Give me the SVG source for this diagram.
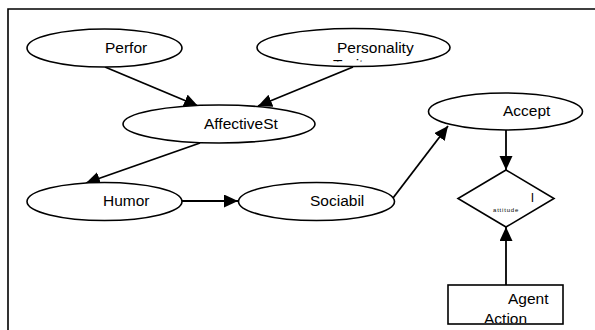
<svg xmlns="http://www.w3.org/2000/svg" width="595" height="330" viewBox="0 0 595 330">
  <style>
    .node { fill: #ffffff; stroke: #000000; stroke-width: 1.6; }
    .lbl { font-family: "Liberation Sans", Arial, sans-serif; font-size: 15.5px; fill: #000000; }
    .tiny { font-family: "Liberation Sans", Arial, sans-serif; font-size: 6px; letter-spacing: 0.8px; fill: #000000; }
    .edge { stroke: #000000; stroke-width: 1.8; fill: none; marker-end: url(#arrow); }
    .frame { stroke: #000000; stroke-width: 1.6; fill: none; }
  </style>
  <defs>
    <marker id="arrow" markerUnits="userSpaceOnUse" markerWidth="15" markerHeight="14" refX="14" refY="6.5" orient="auto">
      <path d="M0,0 L14,6.5 L0,13 Z" fill="#000000"/>
    </marker>
    <clipPath id="clipTrait"><rect x="300" y="50" width="140" height="11.5"/></clipPath>
    <clipPath id="clipAgent"><rect x="449" y="286" width="113" height="37"/></clipPath>
  </defs>

  <rect width="595" height="330" fill="#ffffff"/>
  <!-- page frame: top and left rules -->
  <path class="frame" d="M8,330 L8,9 L595,9"/>

  <g id="connectors">
    <line class="edge" x1="105" y1="67" x2="198" y2="106"/>
    <line class="edge" x1="353" y1="67" x2="258" y2="106"/>
    <line class="edge" x1="200" y1="143" x2="86" y2="183"/>
    <line class="edge" x1="182" y1="201" x2="238" y2="201"/>
    <path class="edge" d="M393,198 L448,126"/>
    <line class="edge" x1="506" y1="130" x2="506" y2="170"/>
    <line class="edge" x1="506" y1="285" x2="506" y2="227"/>
  </g>

  <g id="perfor">
    <ellipse class="node" cx="104.5" cy="48" rx="77.5" ry="19"/>
    <text class="lbl" x="105" y="53">Perfor</text>
  </g>

  <g id="personality">
    <ellipse class="node" cx="353.5" cy="47.5" rx="96.5" ry="19"/>
    <text class="lbl" x="337" y="53">Personality</text>
    <text class="lbl" x="333" y="70" clip-path="url(#clipTrait)">Traits</text>
  </g>

  <g id="affective">
    <ellipse class="node" cx="219" cy="124" rx="96" ry="19"/>
    <text class="lbl" x="204" y="129">AffectiveSt</text>
  </g>

  <g id="humor">
    <ellipse class="node" cx="104.5" cy="201.5" rx="77.5" ry="19"/>
    <text class="lbl" x="103" y="206">Humor</text>
  </g>

  <g id="sociabil">
    <ellipse class="node" cx="316.5" cy="201.5" rx="78" ry="19"/>
    <text class="lbl" x="310" y="206">Sociabil</text>
  </g>

  <g id="accept">
    <ellipse class="node" cx="505.5" cy="111.5" rx="77" ry="18.5"/>
    <text class="lbl" x="503" y="116">Accept</text>
  </g>

  <g id="decision">
    <polygon class="node" points="506,170 554,198.5 506,227 458,198.5"/>
    <text class="lbl" x="531" y="202" style="font-size:13px">l</text>
    <text class="tiny" x="493" y="212">attitude</text>
  </g>

  <g id="agent-action">
    <rect class="node" x="448" y="285" width="115" height="39"/>
    <text class="lbl" x="508" y="304">Agent</text>
    <text class="lbl" x="484" y="324" clip-path="url(#clipAgent)">Action</text>
  </g>
</svg>
